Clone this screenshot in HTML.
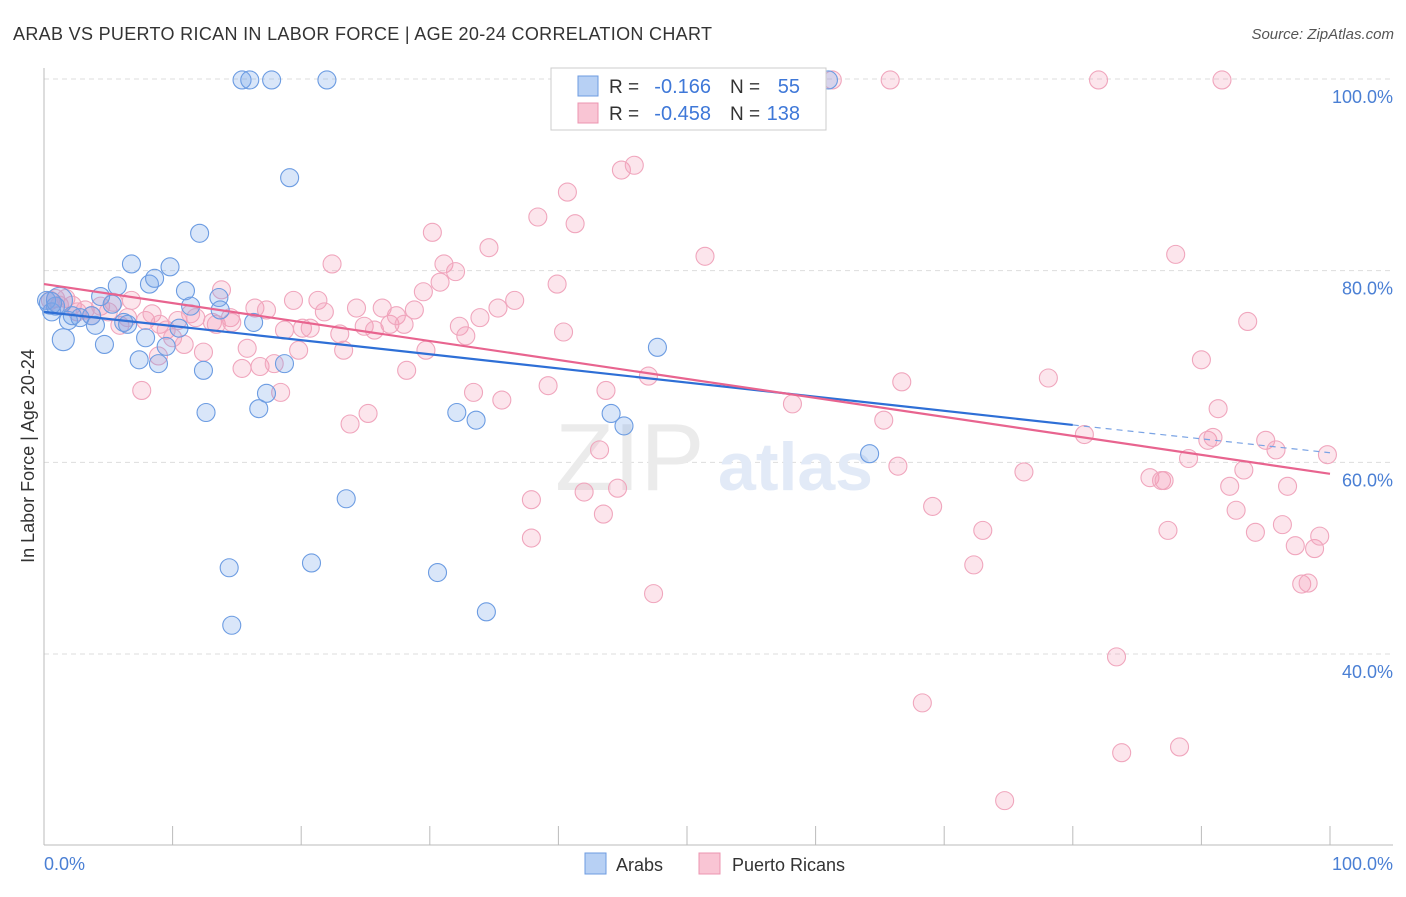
<!DOCTYPE html>
<html><head><meta charset="utf-8"><style>
body{margin:0;background:#fff;font-family:"Liberation Sans",sans-serif;}
svg text{font-family:"Liberation Sans",sans-serif;}
</style></head><body>
<svg id="chart" width="1406" height="892" viewBox="0 0 1406 892" xmlns="http://www.w3.org/2000/svg">
<text x="13" y="40" font-size="18" letter-spacing="0.32" fill="#333">ARAB VS PUERTO RICAN IN LABOR FORCE | AGE 20-24 CORRELATION CHART</text>
<text x="1394" y="39" font-size="15" fill="#555" font-style="italic" text-anchor="end">Source: ZipAtlas.com</text>
<g id="grid"></g>
<text x="555" y="490" font-size="96" fill="#ebebeb" font-family="Liberation Serif,serif">ZIP</text>
<text x="718" y="490" font-size="68" fill="#e2eaf7" font-weight="bold">atlas</text>
<g id="points"></g>
<g id="lines"></g>
<text transform="translate(34,456) rotate(-90)" font-size="18" fill="#333" text-anchor="middle">In Labor Force | Age 20-24</text>
<text x="44" y="870" font-size="18" fill="#4a7fd4">0.0%</text>
<text x="1393" y="870" font-size="18" fill="#4a7fd4" text-anchor="end">100.0%</text>
<g>
<rect x="551" y="68" width="275" height="62" fill="#fff" stroke="#ccc"/>
<rect x="578" y="76" width="20" height="20" fill="#b7d0f4" stroke="#6d9be0"/>
<rect x="578" y="103" width="20" height="20" fill="#f9c5d4" stroke="#ec95b0"/>
<text x="609" y="93" font-size="19" fill="#333">R =</text>
<text x="711" y="93" font-size="20" fill="#3f78d8" text-anchor="end">-0.166</text>
<text x="730" y="93" font-size="19" fill="#333">N =</text>
<text x="800" y="93" font-size="20" fill="#3f78d8" text-anchor="end">55</text>
<text x="609" y="120" font-size="19" fill="#333">R =</text>
<text x="711" y="120" font-size="20" fill="#3f78d8" text-anchor="end">-0.458</text>
<text x="730" y="120" font-size="19" fill="#333">N =</text>
<text x="800" y="120" font-size="20" fill="#3f78d8" text-anchor="end">138</text>
</g>
<g>
<rect x="585" y="853" width="21" height="21" fill="#b7d0f4" stroke="#6d9be0"/>
<text x="616" y="871" font-size="18" fill="#333">Arabs</text>
<rect x="699" y="853" width="21" height="21" fill="#f9c5d4" stroke="#ec95b0"/>
<text x="732" y="871" font-size="18" fill="#333">Puerto Ricans</text>
</g>
</svg>
<script>
const yTicks=[100,80,60,40];
const yTickLabels=["100.0%","80.0%","60.0%","40.0%"];
const xTicks=[0,10,20,30,40,50,60,70,80,90,100];
const arabPoints=[[0.2,76.9],[0.6,75.7],[0.9,76.3],[1.5,72.8],[1.9,74.8],[2.2,75.3],[2.8,75.1],[3.7,75.3],[4.0,74.3],[4.4,77.3],[4.7,72.3],[5.3,76.5],[5.7,78.4],[6.2,74.6],[6.5,74.4],[6.8,80.7],[7.4,70.7],[7.9,73.0],[8.2,78.6],[8.6,79.2],[8.9,70.3],[9.5,72.1],[9.8,80.4],[10.5,74.0],[11.0,77.9],[11.4,76.3],[12.1,83.9],[12.4,69.6],[12.6,65.2],[13.6,77.2],[13.7,75.9],[14.4,49.0],[14.6,43.0],[15.4,99.9],[16.0,99.9],[16.3,74.6],[16.7,65.6],[17.3,67.2],[17.7,99.9],[18.7,70.3],[19.1,89.7],[20.8,49.5],[22.0,99.9],[23.5,56.2],[30.6,48.5],[32.1,65.2],[33.6,64.4],[34.4,44.4],[44.1,65.1],[45.1,63.8],[47.7,72.0],[61.0,99.9],[64.2,60.9],[1.2,76.9],[0.5,76.6]];
const arabSizes=[9,9,9,11,9,9,9,9,9,9,9,9,9,9,9,9,9,9,9,9,9,9,9,9,9,9,9,9,9,9,9,9,9,9,9,9,9,9,9,9,9,9,9,9,9,9,9,9,9,9,9,9,9,13,11];
const prPoints=[[0.5,76.9],[0.9,77.1],[1.2,76.4],[1.7,77.1],[2.2,76.4],[2.6,75.7],[3.2,75.9],[3.7,75.3],[4.4,76.3],[5.0,75.7],[5.4,76.7],[5.9,74.3],[6.5,75.1],[6.8,76.9],[7.6,67.5],[7.9,74.8],[8.4,75.5],[8.9,71.1],[9.0,74.4],[9.5,73.8],[10.0,73.0],[10.4,74.8],[10.9,72.3],[11.4,75.5],[11.8,75.1],[12.4,71.5],[13.1,74.6],[13.4,74.4],[13.8,78.0],[14.5,75.1],[14.6,74.6],[15.4,69.8],[15.8,71.9],[16.4,76.1],[16.8,70.0],[17.3,75.9],[17.9,70.3],[18.4,67.3],[18.7,73.8],[19.4,76.9],[19.8,71.7],[20.1,74.0],[20.7,74.0],[21.3,76.9],[21.8,75.7],[22.4,80.7],[23.0,73.4],[23.3,71.7],[23.8,64.0],[24.3,76.1],[24.9,74.2],[25.2,65.1],[25.7,73.8],[26.3,76.1],[26.9,74.4],[27.4,75.3],[28.0,74.4],[28.2,69.6],[28.8,75.9],[29.5,77.8],[29.7,71.7],[30.2,84.0],[30.8,78.8],[31.1,80.7],[32.0,79.9],[32.3,74.2],[32.8,73.2],[33.4,67.3],[33.9,75.1],[34.6,82.4],[35.3,76.1],[35.6,66.5],[36.6,76.9],[37.9,52.1],[37.9,56.1],[38.4,85.6],[39.2,68.0],[39.9,78.6],[40.4,73.6],[40.7,88.2],[41.3,84.9],[42.0,56.9],[43.2,61.3],[43.5,54.6],[43.7,67.5],[44.6,57.3],[44.9,90.5],[45.9,91.0],[46.7,99.9],[47.0,69.0],[47.4,46.3],[49.1,99.9],[49.5,99.9],[51.4,81.5],[58.2,66.1],[61.3,99.9],[65.3,64.4],[65.8,99.9],[66.4,59.6],[66.7,68.4],[69.1,55.4],[72.3,49.3],[73.0,52.9],[76.2,59.0],[78.1,68.8],[80.9,62.9],[82.0,99.9],[83.4,39.7],[83.8,29.7],[86.0,58.4],[86.9,58.1],[87.4,52.9],[88.0,81.7],[88.3,30.3],[89.0,60.4],[90.0,70.7],[90.5,62.3],[90.9,62.6],[91.3,65.6],[91.6,99.9],[92.2,57.5],[92.7,55.0],[93.3,59.2],[93.6,74.7],[94.2,52.7],[95.0,62.3],[95.8,61.3],[96.3,53.5],[96.7,57.5],[97.3,51.3],[97.8,47.3],[98.3,47.4],[98.8,51.0],[99.2,52.3],[99.8,60.8],[74.7,24.7],[68.3,34.9],[87.1,58.1]];
const arabTrend=[75.7,63.9,61.0];
const prTrend=[78.6,58.8];

const X0=44,X1=1330,Y100=79,Y40=654;
const xs=v=>X0+(X1-X0)*v/100;
const ys=v=>Y100+(100-v)*(Y40-Y100)/60;
const NS="http://www.w3.org/2000/svg";
function mk(tag,parent,attrs){const e=document.createElementNS(NS,tag);for(const k in attrs)e.setAttribute(k,attrs[k]);parent.appendChild(e);return e;}
const grid=document.getElementById('grid');
yTicks.forEach((t,i)=>{
  const l=mk('line',grid,{x1:44,x2:1393,y1:ys(t),y2:ys(t),stroke:'#ddd','stroke-dasharray':'5,4'});
  
  
  const tx=mk('text',grid,{x:1393,y:ys(t)+24,'font-size':18,fill:'#4a7fd4','text-anchor':'end'});
  tx.textContent=yTickLabels[i];
  
  
});
const ax=mk('line',grid,{x1:44,x2:44,y1:68,y2:845,stroke:'#bbb'});


const bx=mk('line',grid,{x1:44,x2:1393,y1:845,y2:845,stroke:'#bbb'});


xTicks.forEach(t=>{
  const tk=mk('line',grid,{x1:xs(t),x2:xs(t),y1:826,y2:845,stroke:'#bbb'});
  
  
});
const pts=document.getElementById('points');
prPoints.forEach(p=>{
  const c=mk('circle',pts,{cx:xs(p[0]),cy:ys(p[1]),r:9,fill:'rgba(244,150,180,0.25)',stroke:'#f0a6bd','stroke-width':1.1});
  
  
});
arabPoints.forEach((p,i)=>{
  const c=mk('circle',pts,{cx:xs(p[0]),cy:ys(p[1]),r:arabSizes[i],fill:'rgba(120,165,235,0.28)',stroke:'#6c9ce2','stroke-width':1.1});
  
  
});
const lines=document.getElementById('lines');
const l1=mk('line',lines,{x1:xs(0),y1:ys(arabTrend[0]),x2:xs(80),y2:ys(arabTrend[1]),stroke:'#2e6fd6','stroke-width':2.2});


const l2=mk('line',lines,{x1:xs(80),y1:ys(arabTrend[1]),x2:xs(100),y2:ys(arabTrend[2]),stroke:'#7aa3e4','stroke-width':1.2,'stroke-dasharray':'6,5'});


const l3=mk('line',lines,{x1:xs(0),y1:ys(prTrend[0]),x2:xs(100),y2:ys(prTrend[1]),stroke:'#e8648f','stroke-width':2.2});


</script>
</body></html>
